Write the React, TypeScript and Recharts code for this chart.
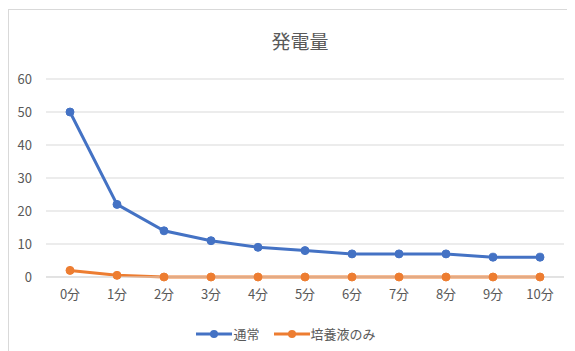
import React from "react";
import { LineChart, Line, XAxis, YAxis, CartesianGrid, Legend } from "recharts";

const categories = ["0分", "1分", "2分", "3分", "4分", "5分", "6分", "7分", "8分", "9分", "10分"];
const normalValues = [50, 22, 14, 11, 9, 8, 7, 7, 7, 6, 6];
const mediumValues = [2, 0.5, 0, 0, 0, 0, 0, 0, 0, 0, 0];
const yTicks = [0, 10, 20, 30, 40, 50, 60];
const seriesNames = ["通常", "培養液のみ"];
const colors = ["#4472C4", "#ED7D31"];

const data = categories.map((c, i) => ({ name: c, normal: normalValues[i], medium: mediumValues[i] }));

const FONT = "'Noto Sans CJK JP', 'Noto Sans', sans-serif";

const LegendContent = () => (
  <div style={{ display: "flex", justifyContent: "center", alignItems: "center", fontFamily: FONT, fontSize: 13, color: "#595959" }}>
    {seriesNames.map((n, i) => (
      <div key={n} style={{ display: "flex", alignItems: "center", marginRight: i === 0 ? 14 : 0 }}>
        <svg width={36} height={10}>
          <line x1={0} y1={5} x2={36} y2={5} stroke={colors[i]} strokeWidth={3} />
          <circle cx={18} cy={5} r={4} fill={colors[i]} />
        </svg>
        <span style={{ marginLeft: 1 }}>{n}</span>
      </div>
    ))}
  </div>
);

export default function App() {
  return (
    <div style={{ position: "relative", width: 567, height: 343 }}>
      <div style={{ position: "absolute", left: 0, top: 1, width: 580, height: 350, borderTop: "1px solid #d9d9d9", borderLeft: "1px solid #d9d9d9" }} />
      <div style={{ position: "absolute", left: 0, width: 584, top: 19, textAlign: "center", fontFamily: FONT, fontSize: 19, color: "#595959" }}>発電量</div>
      <LineChart width={567} height={343} data={data} margin={{ top: 71, right: 11, left: 0, bottom: 24 }}>
        <CartesianGrid vertical={false} stroke="#d9d9d9" />
        <XAxis dataKey="name" padding={{ left: 24, right: 24 }} tickLine={false} axisLine={{ stroke: "#d9d9d9" }} tick={{ fill: "#595959", fontSize: 13, fontFamily: FONT }} tickMargin={7} />
        <YAxis width={38} domain={[0, 60]} ticks={yTicks} tickLine={false} axisLine={false} tick={{ fill: "#595959", fontSize: 13, fontFamily: FONT }} tickMargin={8} />
        <Legend verticalAlign="bottom" height={20} wrapperStyle={{ bottom: 7 }} content={<LegendContent />} />
        <Line dataKey="normal" name={seriesNames[0]} stroke={colors[0]} strokeWidth={3} dot={{ r: 4, fill: colors[0], stroke: colors[0], strokeWidth: 1 }} isAnimationActive={false} />
        <Line dataKey="medium" name={seriesNames[1]} stroke={colors[1]} strokeWidth={3} dot={{ r: 4, fill: colors[1], stroke: colors[1], strokeWidth: 1 }} isAnimationActive={false} />
      </LineChart>
    </div>
  );
}
